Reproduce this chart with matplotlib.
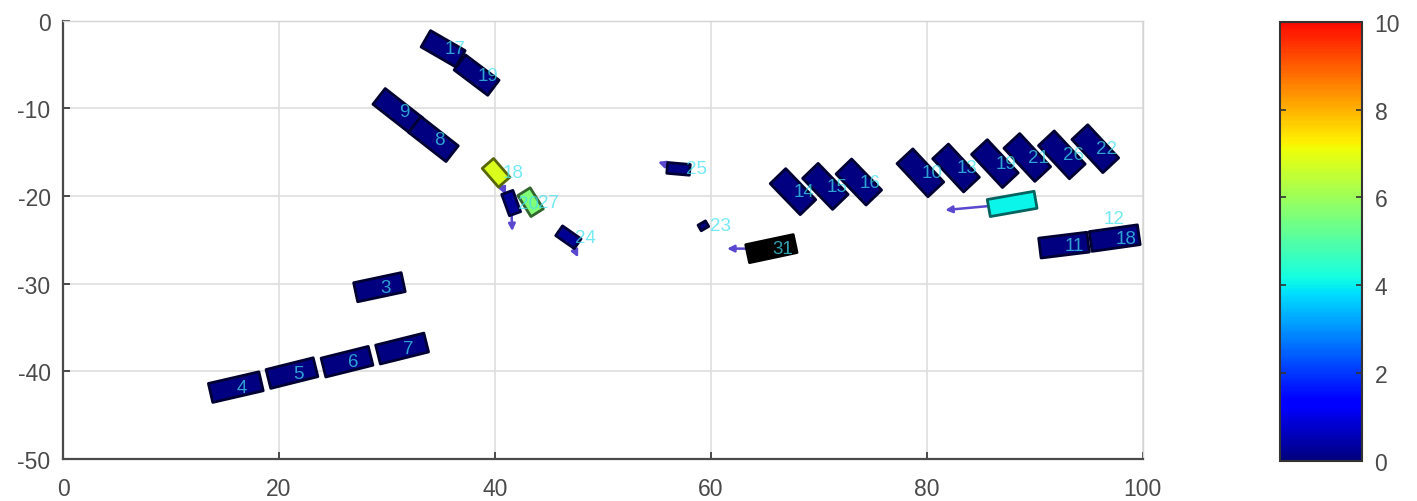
import numpy as np
import matplotlib
matplotlib.use('Agg')
import matplotlib.pyplot as plt
from matplotlib.patches import Polygon
from matplotlib import colors

plt.rcParams['font.family'] = ['Liberation Sans', 'DejaVu Sans']
plt.rcParams['axes.unicode_minus'] = False

# ---------------- data ----------------
labels = ['17', '19', '9', '8', '3', '4', '5', '6', '7',
          '18', '20', '27', '24', '25', '23', '31',
          '14', '15', '16',
          '10', '13', '19', '21', '26', '22',
          '', '11', '18', '12']
cx = [35.2, 38.3, 31.0, 34.3, 29.3, 16.0, 21.2, 26.3, 31.4,
      40.1, 41.5, 43.3, 46.8, 57.0, 59.3, 65.6,
      67.6, 70.6, 73.7,
      79.4, 82.7, 86.3, 89.3, 92.5, 95.6,
      87.9, 92.7, 97.4, 95.7]
cy = [-3.2, -6.2, -10.3, -13.5, -30.4, -41.8, -40.2, -38.9, -37.4,
      -17.35, -20.8, -20.7, -24.7, -16.9, -23.4, -26.0,
      -19.5, -18.9, -18.4,
      -17.35, -16.8, -16.3, -15.6, -15.3, -14.6,
      -20.9, -25.6, -24.8, -22.6]
length = [3.7, 3.9, 4.4, 4.4, 4.5, 4.8, 4.5, 4.5, 4.6,
          2.3, 2.1, 2.3, 2.1, 2.1, 0.8, 4.5,
          4.0, 4.0, 4.0,
          4.2, 4.2, 4.2, 4.2, 4.2, 4.2,
          4.4, 4.5, 4.5, 0.0]
width = [1.75, 1.75, 1.85, 1.85, 1.8, 1.8, 1.8, 1.8, 1.8,
         1.4, 1.1, 1.35, 1.1, 1.0, 0.6, 1.7,
         2.0, 2.0, 2.0,
         2.0, 2.0, 2.0, 2.0, 2.0, 2.0,
         1.6, 1.85, 1.85, 0.0]
heading = [-30, -37, -38, -38, 12, 13, 14, 14, 14,
           -49, -70, -58, -35, -5, 30, 12,
           -46, -46, -46,
           -47, -47, -47, -47, -47, -47,
           10, 7, 8, 0]
speed = [0, 0, 0, 0, 0, 0, 0, 0, 0,
         6.8, 0.25, 5.6, 0.2, 0.1, 0.0, -1,
         0, 0, 0,
         0, 0, 0, 0, 0, 0,
         4.1, 0, 0, 0]
vx = [0, 0, 0, 0, 0, 0, 0, 0, 0,
      0.9, 0.1, 0.4, 0.9, -1.9, 0, -4.1,
      0, 0, 0,
      0, 0, 0, 0, 0, 0,
      -6.2, 0, 0, 0]
vy = [0, 0, 0, 0, 0, 0, 0, 0, 0,
      -2.5, -3.2, -1.65, -2.3, 0.8, 0, 0.0,
      0, 0, 0,
      0, 0, 0, 0, 0, 0,
      -0.7, 0, 0, 0]

x_ticks = [0, 20, 40, 60, 80, 100]
y_ticks = [0, -10, -20, -30, -40, -50]
cbar_ticks = [0, 2, 4, 6, 8, 10]

# ---------------- figure ----------------
fig = plt.figure(figsize=(14.17, 5.02), dpi=100)
ax = fig.add_axes([0.0445, 0.0837, 0.762, 0.873])
ax.set_xlim(0, 100)
ax.set_ylim(-50, 0)

cmap = colors.ListedColormap(plt.get_cmap('jet')(np.linspace(0, 0.9, 256)))
cmap.set_under('black')
norm = colors.Normalize(vmin=0, vmax=10)

sx = ax.bbox.width / 100.0
sy = ax.bbox.height / 50.0
k = sx / sy

tick_col = '#4a4a4a'
ax.grid(True, color='#dedede', lw=1.2, zorder=0)
ax.set_axisbelow(True)
for s in ['top', 'right']:
    ax.spines[s].set_color('#d4d4d4')
    ax.spines[s].set_linewidth(1.0)
for s in ['left', 'bottom']:
    ax.spines[s].set_color('#4a4a4a')
    ax.spines[s].set_linewidth(1.6)

ax.set_xticks(x_ticks)
ax.set_yticks(y_ticks)
ax.tick_params(direction='in', length=5, width=1.4, color='#4a4a4a',
               labelsize=16.5, labelcolor=tick_col)
ax.tick_params(axis='x', pad=13)
ax.tick_params(axis='y', pad=9)

arrow_col = '#5a48d0'
lab_col = (0.25, 0.88, 0.95)

for i in range(len(labels)):
    L, W, th = length[i], width[i], np.deg2rad(heading[i])
    if vx[i] != 0 or vy[i] != 0:
        ax.annotate('', xy=(cx[i] + vx[i], cy[i] + vy[i]), xytext=(cx[i], cy[i]),
                    arrowprops=dict(arrowstyle='-|>', color=arrow_col, lw=1.8,
                                    mutation_scale=10, shrinkA=0, shrinkB=0),
                    zorder=2)
    if L > 0:
        c, s = np.cos(th), np.sin(th)
        pts = []
        for a, b in [(1, 1), (1, -1), (-1, -1), (-1, 1)]:
            ox = a * L / 2 * c - b * W / 2 * s
            oy = (a * L / 2 * s + b * W / 2 * c) * k
            pts.append((cx[i] + ox, cy[i] + oy))
        fc = cmap(norm(speed[i]))
        ec = tuple(0.4 * np.array(fc[:3]))
        ax.add_patch(Polygon(pts, closed=True, facecolor=fc, edgecolor=ec,
                             lw=2.0, joinstyle='round', zorder=3))
    if labels[i]:
        off = 0.65 if L < 3 else 0.1
        ax.text(cx[i] + off, cy[i], labels[i], ha='left', va='center',
                fontsize=13.5, color=lab_col, alpha=0.72, zorder=5)

# ---------------- colorbar ----------------
cax = fig.add_axes([0.9033, 0.0797, 0.0579, 0.875])
sm = plt.cm.ScalarMappable(norm=norm, cmap=cmap)
cb = fig.colorbar(sm, cax=cax, ticks=cbar_ticks)
cb.outline.set_edgecolor('#333333')
cb.outline.set_linewidth(1.5)
cax.tick_params(direction='in', length=4, width=1.2, color='#333333',
                left=True, right=True, labelsize=16.5, labelcolor=tick_col, pad=9)

fig.savefig('out.png', dpi=100)
